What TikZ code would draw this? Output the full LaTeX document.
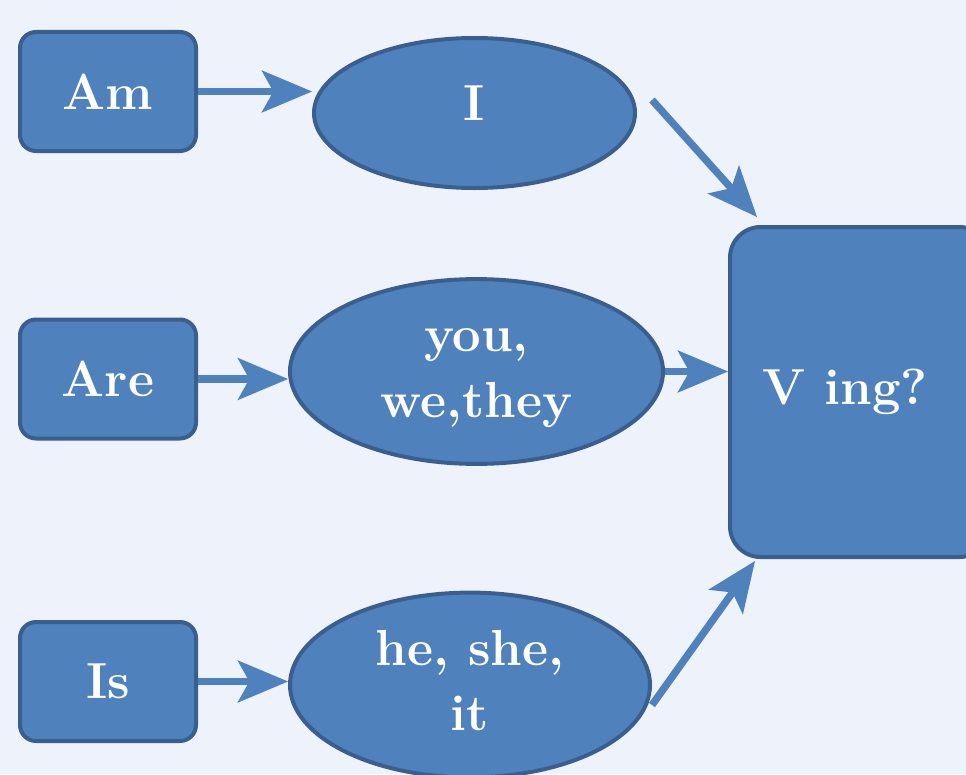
\documentclass[tikz,border=0pt]{standalone}
\usetikzlibrary{shapes.geometric,arrows.meta}
\definecolor{bgc}{HTML}{EEF2FA}
\definecolor{fillc}{HTML}{4F81BD}
\definecolor{edgec}{HTML}{3A5F8E}
\tikzset{
  lbl/.style={text=white, font=\fontsize{38}{49}\selectfont\bfseries},
  boxnode/.style={lbl, draw=edgec, fill=fillc, line width=3pt, rounded corners=12pt, inner sep=0pt},
  ellnode/.style={lbl, ellipse, draw=edgec, fill=fillc, line width=3pt, inner sep=0pt},
  arr/.style={draw=fillc, line width=5.5pt,
    -{Stealth[length=38pt, width=32pt, inset=9pt, line width=0pt, fill=fillc]}},
}
\newcommand{\twolines}[3]{\raisebox{#1}{\begin{tabular}{@{}c@{}}#2\\#3\end{tabular}}}
\begin{document}
\begin{tikzpicture}[x=0.75pt, y=-0.75pt]
\useasboundingbox (0,0) rectangle (966,774);
\clip (0,0) rectangle (966,774);
\fill[bgc] (0,0) rectangle (966,774);

\node[boxnode, minimum width=132pt, minimum height=89.25pt] (am) at (108,91.5) {Am};
\node[boxnode, minimum width=132pt, minimum height=89.25pt] (are) at (108,379) {Are};
\node[boxnode, minimum width=132pt, minimum height=89.25pt] (is) at (108,681.5) {Is};

\node[ellnode, minimum width=240.75pt, minimum height=112.5pt] (i) at (474.5,113) {\raisebox{15pt}{I}};
\node[ellnode, minimum width=279.75pt, minimum height=134.25pt] (you) at (476.5,371.5) {\twolines{-7pt}{you,}{we,they}};
\node[ellnode, minimum width=270pt, minimum height=127.5pt] (he) at (470,685) {\twolines{1pt}{he, she,}{it}};

\node[boxnode, rounded corners=23pt, minimum width=195pt, minimum height=247.5pt] (ving) at (860,392) {\hspace*{-22pt}V ing?};

\draw[arr] (am.east) -- (am.east -| i.west);
\draw[arr] (are.east) -- (are.east -| you.west);
\draw[arr] (is.east) -- (is.east -| he.west);

\draw[arr] ([shift={(15,-13)}]i.east) -- ([shift={(29,-8)}]ving.north west);
\draw[arr] (you.east) -- (you.east -| ving.west);
\draw[arr] ([shift={(0,20)}]he.east) -- ([shift={(27,2)}]ving.south west);
\end{tikzpicture}
\end{document}
